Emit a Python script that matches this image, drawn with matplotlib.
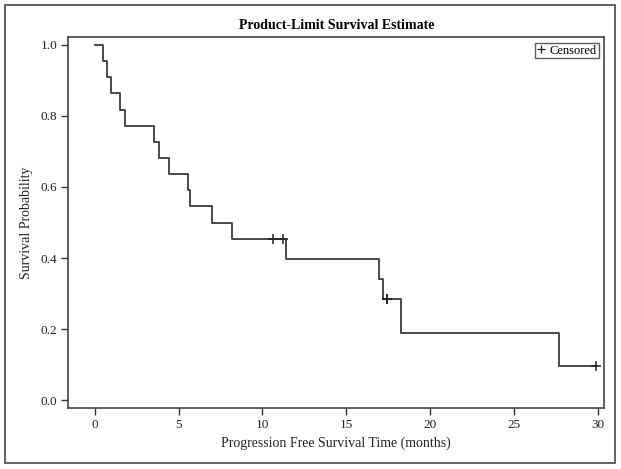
import numpy as np
import matplotlib
matplotlib.use("Agg")
import matplotlib.pyplot as plt
from matplotlib.lines import Line2D
from matplotlib.patches import Rectangle

# Data (months)
event_times = [0.51, 0.72, 0.95, 1.51, 1.82, 3.55, 3.85, 4.41, 5.58, 5.66,
               6.98, 8.20, 11.41, 16.97, 17.17, 18.25, 27.70]
censor_times = [10.63, 11.25, 17.41, 17.41, 29.88]
x_ticks = [0, 5, 10, 15, 20, 25, 30]
y_ticks = [0.0, 0.2, 0.4, 0.6, 0.8, 1.0]

# Kaplan-Meier estimate
times = np.array(event_times + censor_times)
status = np.array([1] * len(event_times) + [0] * len(censor_times))
order = np.lexsort((-status, times))
times, status = times[order], status[order]
n_at_risk = len(times)
surv = 1.0
step_t = [0.0]
step_s = [1.0]
cens_x, cens_y = [], []
for t, s in zip(times, status):
    if s == 1:
        surv *= (n_at_risk - 1) / n_at_risk
        step_t.append(t)
        step_s.append(surv)
    else:
        cens_x.append(t)
        cens_y.append(surv)
    n_at_risk -= 1
step_t.append(max(times))
step_s.append(surv)

plt.rcParams['font.family'] = ['Liberation Serif', 'DejaVu Serif']

fig = plt.figure(figsize=(6.21, 4.69), dpi=100)
ax = fig.add_axes([68.3 / 621, 1 - 408 / 469, (604.3 - 68.3) / 621, (408 - 37) / 469])

line_col = '#3a3a3a'
ax.step(step_t, step_s, where='post', color=line_col, lw=1.3)
ax.plot(cens_x, cens_y, linestyle='none', marker='+', color='#222222',
        markersize=7, markeredgewidth=1.1)

ax.set_xlim(-1.574, 30.39)
ax.set_ylim(-0.0225, 1.0225)
ax.set_xticks(x_ticks)
ax.set_xticklabels([str(v) for v in x_ticks])
ax.set_yticks(y_ticks)
ax.set_yticklabels([f"{v:.1f}" for v in y_ticks])
ax.tick_params(direction='out', length=5, width=1, colors='#333333',
               labelsize=9.5, labelcolor='#222222', pad=3)
for sp in ax.spines.values():
    sp.set_color('#444444')
    sp.set_linewidth(1.2)

ax.set_xlabel('Progression Free Survival Time (months)', fontsize=10, color='#222222', labelpad=4)
ax.set_ylabel('Survival Probability', fontsize=10, color='#222222', labelpad=5)
ax.set_title('Product-Limit Survival Estimate', fontsize=10, fontweight='bold', pad=6)

handle = Line2D([], [], linestyle='none', marker='+', color='#222222',
                markersize=6, markeredgewidth=0.9)
leg = ax.legend([handle], ['Censored'], loc='upper right', frameon=True, fancybox=False,
                fontsize=9, handlelength=0.6, handletextpad=0.4, borderpad=0.15,
                borderaxespad=0.45, edgecolor='#333333')
leg.get_frame().set_linewidth(1.0)

# outer border of the figure
fig.patches.append(Rectangle((5 / 621, 1 - 463 / 469), 610 / 621, 458 / 469,
                             transform=fig.transFigure, fill=False,
                             edgecolor='#555555', linewidth=1.3))

fig.savefig('out.png', dpi=100)
